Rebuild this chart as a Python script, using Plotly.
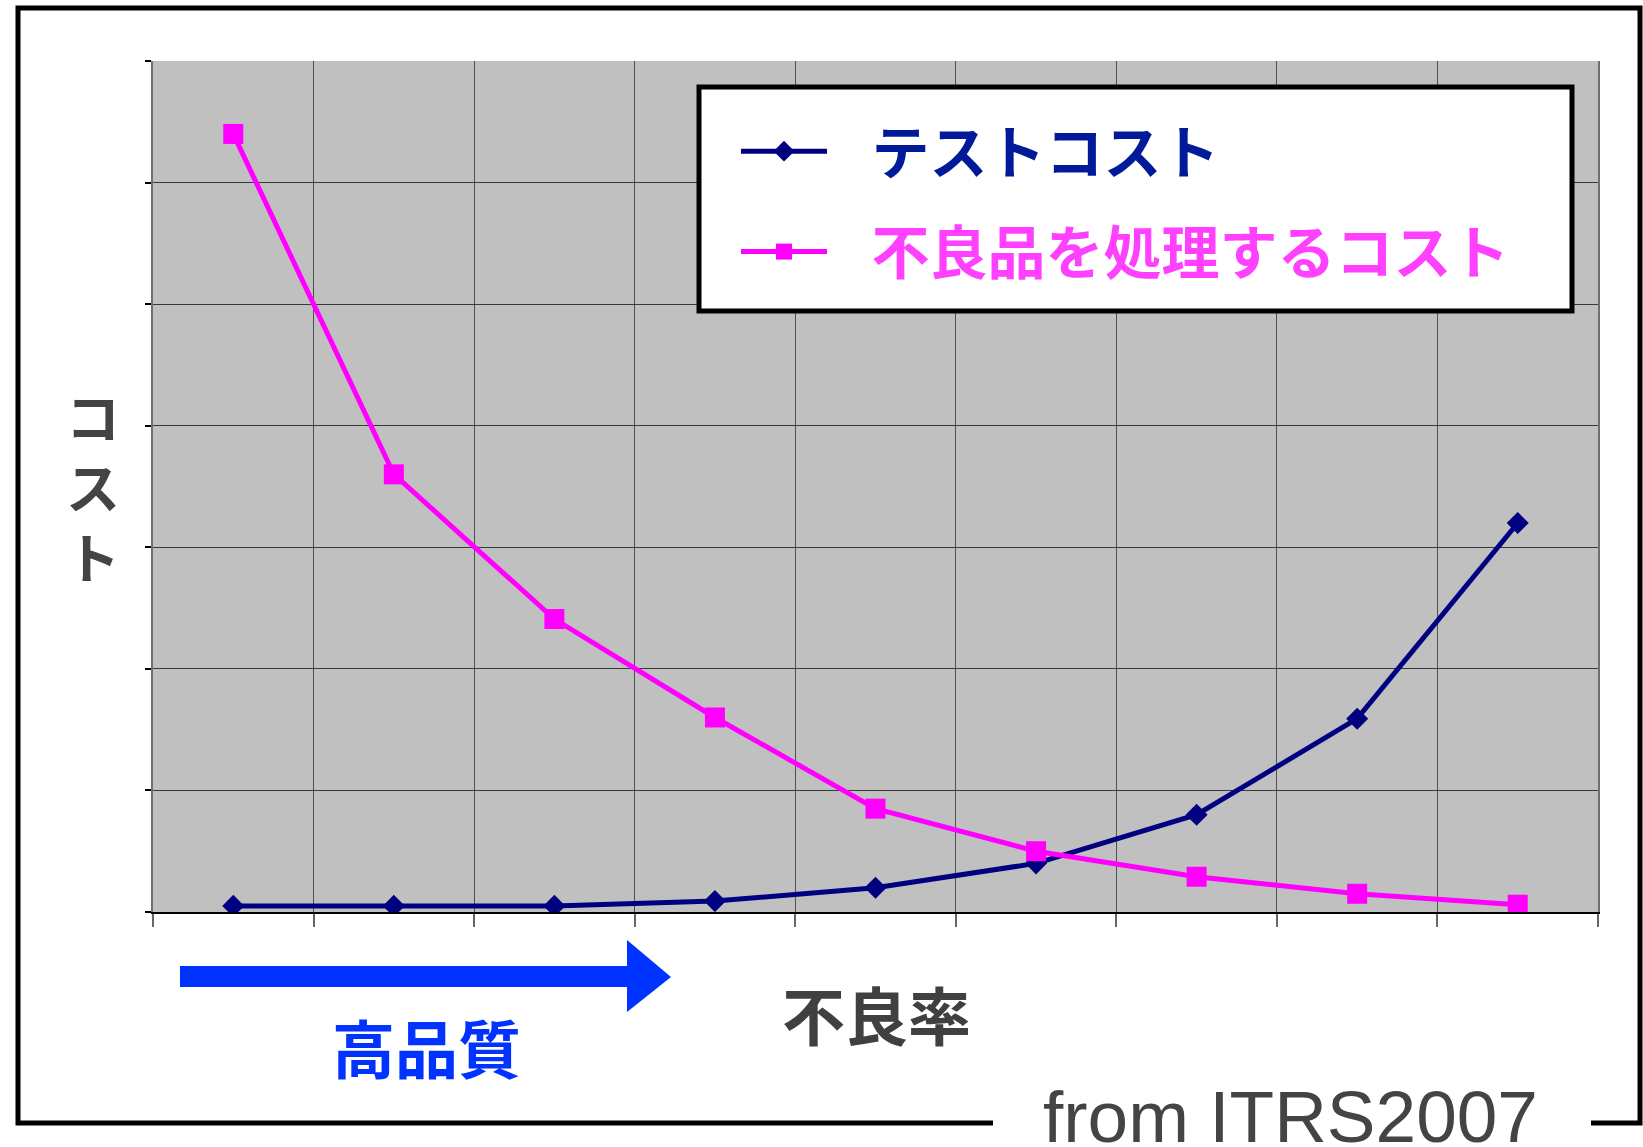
import plotly.graph_objects as go

# ---- data ----
defect_levels = ["1", "2", "3", "4", "5", "6", "7", "8", "9"]
test_cost = [0.05, 0.05, 0.05, 0.09, 0.20, 0.40, 0.80, 1.59, 3.20]
defect_cost = [6.40, 3.60, 2.41, 1.60, 0.85, 0.50, 0.29, 0.15, 0.06]
series_names = ["テストコスト", "不良品を処理するコスト"]
y_title = "コスト"
x_title = "不良率"
quality_label = "高品質"
source_note = "from ITRS2007"

# ---- layout geometry (pixels) ----
W, H = 1643, 1147
PL, PR, PT, PB = 153, 1598, 61, 912


def px(x):
    return (x - PL) / (PR - PL)


def py(y):
    return (PB - y) / (PB - PT)


def path(points, close=False):
    s = "M " + " L ".join(f"{px(x):.5f},{py(y):.5f}" for x, y in points)
    return s + (" Z" if close else "")


CJK = "Noto Sans CJK JP"
NAVY = "#000080"
PINK = "#FF00FF"
PAD = "\u00a0\u00a0\u00a0"

fig = go.Figure()
fig.add_trace(go.Scatter(
    x=defect_levels, y=test_cost, mode="lines+markers",
    name=f"<span style='color:#001A99'>{PAD}{series_names[0]}</span>",
    line=dict(color=NAVY, width=5),
    marker=dict(symbol="diamond", size=17, color=NAVY),
    legendgroup="g1",
))
fig.add_trace(go.Scatter(
    x=defect_levels, y=defect_cost, mode="lines+markers",
    name=f"<span style='color:#FF40FF'>{PAD}{series_names[1]}</span>",
    line=dict(color=PINK, width=5),
    marker=dict(symbol="square", size=20, color=PINK),
    legendgroup="g2",
))

shapes = [
    # legend box
    dict(type="rect", xref="paper", yref="paper",
         x0=px(699), x1=px(1572), y0=py(311), y1=py(87),
         line=dict(color="black", width=5), fillcolor="white", layer="above"),
    # outer frame, broken at the bottom for the source note
    dict(type="path", xref="paper", yref="paper",
         path=path([(993, 1123), (18, 1123), (18, 8), (1640, 8), (1640, 1123), (1591, 1123)]),
         line=dict(color="black", width=5)),
    # quality arrow
    dict(type="path", xref="paper", yref="paper",
         path=path([(180, 966), (627, 966), (627, 940), (671, 977), (627, 1012),
                    (627, 987), (180, 987)], close=True),
         line=dict(width=0), fillcolor="#0033FF"),
]

annotations = [
    # vertical (stacked) y-axis title
    dict(text="<br>".join(y_title), x=px(92.5), y=py(485), xref="paper", yref="paper",
         showarrow=False, xanchor="center", yanchor="middle",
         font=dict(family=CJK, size=54, color="#444444", weight="bold")),
    dict(text=x_title, x=px(876), y=py(1013), xref="paper", yref="paper",
         showarrow=False, xanchor="center", yanchor="middle",
         font=dict(family=CJK, size=63, color="#404040", weight="bold")),
    dict(text=quality_label, x=px(426), y=py(1045), xref="paper", yref="paper",
         showarrow=False, xanchor="center", yanchor="middle",
         font=dict(family=CJK, size=63, color="#0033FF", weight="bold")),
    dict(text=source_note, x=px(1290), y=py(1116), xref="paper", yref="paper",
         showarrow=False, xanchor="center", yanchor="middle",
         font=dict(family="Liberation Sans", size=73, color="#444444")),
]

fig.update_layout(
    width=W, height=H,
    margin=dict(l=PL, r=W - PR, t=PT, b=H - PB, pad=0),
    paper_bgcolor="white", plot_bgcolor="#C0C0C0",
    showlegend=True,
    legend=dict(
        x=px(736), y=py(107), xanchor="left", yanchor="top",
        bgcolor="rgba(0,0,0,0)", borderwidth=0,
        font=dict(family=CJK, size=58, weight="bold"),
        itemwidth=86, tracegroupgap=22, traceorder="grouped",
        itemsizing="trace",
    ),
    shapes=shapes, annotations=annotations,
    xaxis=dict(
        type="category", range=[-0.5, 8.5], tickson="boundaries", showticklabels=False,
        showgrid=True, gridcolor="#505050", gridwidth=1,
        ticks="outside", ticklen=13, tickcolor="#666666", tickwidth=1.5,
        showline=True, linecolor="black", linewidth=2, zeroline=False,
    ),
    yaxis=dict(
        range=[0, 7], dtick=1, showticklabels=False,
        showgrid=True, gridcolor="#383838", gridwidth=1,
        ticks="outside", ticklen=6, tickcolor="black", tickwidth=1.5,
        showline=True, linecolor="#707070", linewidth=2, mirror=True,
        zeroline=False,
    ),
)

fig.write_html("out.html", config={"displayModeBar": False},
               post_script="document.body.style.margin='0';document.body.style.overflow='hidden';")
